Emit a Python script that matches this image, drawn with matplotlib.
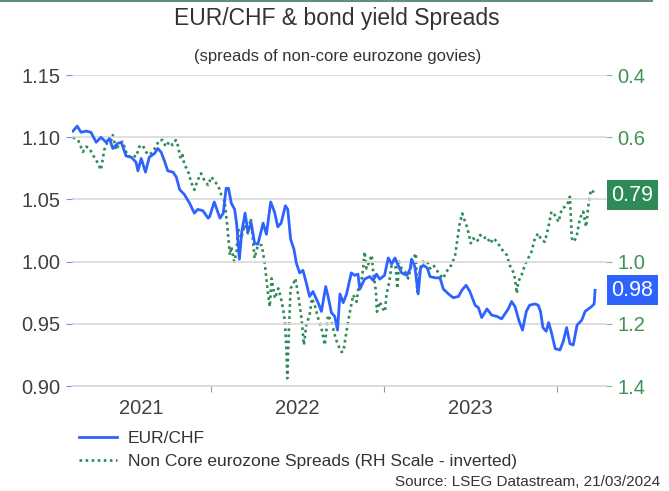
import numpy as np
import pandas as pd
import matplotlib
matplotlib.use("Agg")
import matplotlib.pyplot as plt
import matplotlib.dates as mdates

plt.rcParams['font.family'] = ['Liberation Sans', 'DejaVu Sans']

# EUR/CHF (left axis)
chf_dates = [
    "2021-03-16", "2021-03-25", "2021-04-02", "2021-04-13", "2021-04-23", "2021-05-04",
    "2021-05-14", "2021-05-25", "2021-06-01", "2021-06-08", "2021-06-18", "2021-06-26",
    "2021-07-06", "2021-07-17", "2021-07-27", "2021-07-31", "2021-08-07", "2021-08-16",
    "2021-08-24", "2021-09-04", "2021-09-11", "2021-09-18", "2021-09-25", "2021-10-02",
    "2021-10-13", "2021-10-20", "2021-10-27", "2021-11-06", "2021-11-17", "2021-11-27",
    "2021-12-04", "2021-12-15", "2021-12-26", "2021-12-29", "2022-01-08", "2022-01-20",
    "2022-01-27", "2022-02-02", "2022-02-07", "2022-02-13", "2022-02-20", "2022-02-24",
    "2022-03-02", "2022-03-07", "2022-03-14", "2022-03-20", "2022-03-27", "2022-04-03",
    "2022-04-10", "2022-04-21", "2022-04-28", "2022-05-07", "2022-05-15", "2022-05-22",
    "2022-05-29", "2022-06-07", "2022-06-12", "2022-06-18", "2022-06-25", "2022-06-30",
    "2022-07-07", "2022-07-14", "2022-07-21", "2022-07-28", "2022-08-04", "2022-08-15",
    "2022-08-22", "2022-08-31", "2022-09-05", "2022-09-12", "2022-09-19", "2022-09-25",
    "2022-09-30", "2022-10-07", "2022-10-14", "2022-10-24", "2022-10-31", "2022-11-07",
    "2022-11-11", "2022-11-21", "2022-12-02", "2022-12-09", "2022-12-16", "2022-12-23",
    "2023-01-02", "2023-01-10", "2023-01-17", "2023-01-24", "2023-01-31", "2023-02-07",
    "2023-02-18", "2023-02-25", "2023-02-28", "2023-03-07", "2023-03-14", "2023-03-19",
    "2023-03-25", "2023-04-02", "2023-04-08", "2023-04-19", "2023-04-29", "2023-05-06",
    "2023-05-17", "2023-05-27", "2023-06-07", "2023-06-14", "2023-06-23", "2023-07-01",
    "2023-07-12", "2023-07-19", "2023-07-26", "2023-08-06", "2023-08-16", "2023-08-27",
    "2023-09-06", "2023-09-13", "2023-09-20", "2023-09-27", "2023-10-04", "2023-10-13",
    "2023-10-20", "2023-10-28", "2023-11-04", "2023-11-15", "2023-11-22", "2023-11-27",
    "2023-12-02", "2023-12-09", "2023-12-14", "2023-12-20", "2023-12-28", "2024-01-07",
    "2024-01-14", "2024-01-21", "2024-01-28", "2024-02-04", "2024-02-12", "2024-02-22",
    "2024-02-29", "2024-03-07", "2024-03-14", "2024-03-19", "2024-03-21",
]
chf_values = [
    1.105, 1.109, 1.104, 1.105, 1.104, 1.096,
    1.100, 1.096, 1.099, 1.091, 1.095, 1.096,
    1.085, 1.084, 1.080, 1.073, 1.083, 1.072,
    1.084, 1.087, 1.091, 1.088, 1.081, 1.073,
    1.072, 1.068, 1.058, 1.054, 1.047, 1.039,
    1.042, 1.041, 1.035, 1.036, 1.048, 1.035,
    1.039, 1.059, 1.059, 1.047, 1.042, 1.031,
    1.002, 1.024, 1.039, 1.024, 1.031, 1.015,
    1.014, 1.031, 1.022, 1.048, 1.040, 1.028,
    1.031, 1.045, 1.042, 1.018, 1.010, 0.999,
    0.991, 0.993, 0.983, 0.972, 0.976, 0.967,
    0.960, 0.980, 0.972, 0.959, 0.956, 0.945,
    0.974, 0.967, 0.974, 0.991, 0.989, 0.990,
    0.978, 0.986, 0.988, 0.985, 0.990, 0.986,
    0.989, 1.003, 0.998, 1.003, 0.997, 0.991,
    0.989, 0.994, 1.002, 0.996, 0.974, 0.995,
    0.997, 0.995, 0.988, 0.987, 0.987, 0.978,
    0.974, 0.971, 0.972, 0.977, 0.981, 0.976,
    0.965, 0.963, 0.955, 0.962, 0.957, 0.956,
    0.954, 0.958, 0.962, 0.968, 0.964, 0.952,
    0.945, 0.960, 0.965, 0.966, 0.965, 0.960,
    0.947, 0.944, 0.951, 0.943, 0.930, 0.929,
    0.936, 0.947, 0.934, 0.933, 0.949, 0.953,
    0.960, 0.962, 0.964, 0.966, 0.977,
]

# non-core eurozone spreads (right axis, inverted)
spr_dates = [
    "2021-03-16", "2021-03-27", "2021-04-06", "2021-04-13", "2021-04-20", "2021-04-27",
    "2021-05-04", "2021-05-11", "2021-05-14", "2021-05-21", "2021-05-28", "2021-06-05",
    "2021-06-08", "2021-06-15", "2021-06-22", "2021-06-29", "2021-07-06", "2021-07-13",
    "2021-07-20", "2021-07-27", "2021-08-03", "2021-08-10", "2021-08-17", "2021-08-24",
    "2021-08-31", "2021-09-07", "2021-09-14", "2021-09-21", "2021-09-28", "2021-10-05",
    "2021-10-12", "2021-10-19", "2021-10-23", "2021-10-29", "2021-11-02", "2021-11-06",
    "2021-11-13", "2021-11-20", "2021-11-27", "2021-12-04", "2021-12-11", "2021-12-18",
    "2021-12-26", "2022-01-02", "2022-01-09", "2022-01-16", "2022-01-23", "2022-01-30",
    "2022-02-05", "2022-02-10", "2022-02-13", "2022-02-19", "2022-02-24", "2022-02-27",
    "2022-03-06", "2022-03-13", "2022-03-20", "2022-03-26", "2022-03-31", "2022-04-03",
    "2022-04-10", "2022-04-18", "2022-04-24", "2022-05-01", "2022-05-05", "2022-05-09",
    "2022-05-16", "2022-05-23", "2022-05-28", "2022-06-02", "2022-06-06", "2022-06-09",
    "2022-06-11", "2022-06-14", "2022-06-18", "2022-06-23", "2022-06-28", "2022-07-04",
    "2022-07-11", "2022-07-16", "2022-07-21", "2022-07-28", "2022-08-02", "2022-08-08",
    "2022-08-15", "2022-08-22", "2022-08-29", "2022-09-05", "2022-09-12", "2022-09-21",
    "2022-09-26", "2022-10-03", "2022-10-07", "2022-10-15", "2022-10-21", "2022-10-28",
    "2022-11-04", "2022-11-09", "2022-11-15", "2022-11-18", "2022-11-21", "2022-11-25",
    "2022-12-01", "2022-12-06", "2022-12-09", "2022-12-15", "2022-12-17", "2022-12-23",
    "2022-12-29", "2023-01-03", "2023-01-06", "2023-01-12", "2023-01-17", "2023-01-24",
    "2023-01-29", "2023-02-02", "2023-02-07", "2023-02-14", "2023-02-21", "2023-02-26",
    "2023-03-04", "2023-03-09", "2023-03-12", "2023-03-18", "2023-03-24", "2023-03-29",
    "2023-04-02", "2023-04-08", "2023-04-15", "2023-04-22", "2023-04-29", "2023-05-06",
    "2023-05-12", "2023-05-19", "2023-05-26", "2023-05-31", "2023-06-04", "2023-06-09",
    "2023-06-15", "2023-06-21", "2023-06-26", "2023-07-03", "2023-07-08", "2023-07-16",
    "2023-07-23", "2023-07-30", "2023-08-06", "2023-08-13", "2023-08-20", "2023-08-27",
    "2023-09-03", "2023-09-10", "2023-09-17", "2023-09-23", "2023-09-30", "2023-10-04",
    "2023-10-08", "2023-10-11", "2023-10-18", "2023-10-25", "2023-11-01", "2023-11-08",
    "2023-11-15", "2023-11-22", "2023-11-29", "2023-12-06", "2023-12-13", "2023-12-20",
    "2023-12-27", "2024-01-04", "2024-01-11", "2024-01-18", "2024-01-22", "2024-01-28",
    "2024-02-01", "2024-02-05", "2024-02-11", "2024-02-18", "2024-02-25", "2024-03-02",
    "2024-03-07", "2024-03-12", "2024-03-17", "2024-03-21",
]
spr_values = [
    0.600, 0.609, 0.647, 0.630, 0.636, 0.657,
    0.673, 0.695, 0.705, 0.641, 0.614, 0.609,
    0.593, 0.641, 0.620, 0.614, 0.647, 0.663,
    0.657, 0.663, 0.630, 0.625, 0.647, 0.657,
    0.647, 0.630, 0.609, 0.609, 0.630, 0.614,
    0.625, 0.609, 0.625, 0.668, 0.657, 0.689,
    0.705, 0.743, 0.769, 0.738, 0.716, 0.738,
    0.754, 0.727, 0.743, 0.754, 0.786, 0.807,
    0.893, 0.979, 0.952, 1.000, 0.968, 0.893,
    0.925, 0.882, 0.909, 0.861, 0.936, 0.989,
    0.947, 0.947, 1.000, 1.097, 1.145, 1.054,
    1.118, 1.086, 1.113, 1.150, 1.193, 1.279,
    1.375, 1.236, 1.086, 1.075, 1.054, 1.107,
    1.182, 1.268, 1.204, 1.172, 1.118, 1.140,
    1.182, 1.214, 1.268, 1.172, 1.193, 1.247,
    1.268, 1.290, 1.290, 1.214, 1.161, 1.107,
    1.129, 1.075, 1.054, 1.022, 0.968, 1.022,
    1.000, 0.979, 1.032, 1.097, 1.161, 1.129,
    1.150, 1.161, 1.107, 1.065, 1.011, 0.989,
    1.086, 1.000, 1.022, 1.032, 1.054, 1.022,
    0.989, 0.973, 1.097, 1.022, 1.000, 1.005,
    1.000, 1.022, 1.011, 1.027, 1.043, 1.054,
    1.032, 1.022, 1.000, 0.979, 0.936, 0.882,
    0.845, 0.872, 0.893, 0.941, 0.925, 0.936,
    0.914, 0.925, 0.920, 0.941, 0.925, 0.936,
    0.952, 0.968, 0.979, 1.011, 1.032, 1.054,
    1.102, 1.065, 1.043, 1.011, 0.989, 0.968,
    0.925, 0.909, 0.931, 0.936, 0.893, 0.839,
    0.850, 0.872, 0.829, 0.823, 0.818, 0.791,
    0.925, 0.936, 0.920, 0.861, 0.839, 0.888,
    0.818, 0.769, 0.775, 0.786,
]

left_ticks = [0.90, 0.95, 1.00, 1.05, 1.10, 1.15]
right_ticks = [0.4, 0.6, 0.8, 1.0, 1.2, 1.4]
year_labels = ["2021", "2022", "2023"]

BLUE = "#2f63ff"
GREEN = "#2e8b57"
GREEN_TXT = "#3f9152"
GREY_TXT = "#404040"
GRID = "#d9d9d9"

chf_d = pd.to_datetime(chf_dates)
spr_d = pd.to_datetime(spr_dates)

fig = plt.figure(figsize=(6.69, 4.91), dpi=100)
ax = fig.add_axes([0.1076, 0.2138, 0.7982, 0.6332])
ax2 = ax.twinx()

ax.set_zorder(ax2.get_zorder() + 1)
ax.patch.set_visible(False)

ax2.plot(spr_d, spr_values, color=GREEN, lw=1.9, linestyle=(0, (1, 1.3)),
         label="Non Core eurozone Spreads (RH Scale - inverted)")
ax.plot(chf_d, chf_values, color=BLUE, lw=2.0, label="EUR/CHF")

x_left = pd.Timestamp("2021-03-14")
x_right = pd.Timestamp("2024-04-13")
ax.set_xlim(x_left, x_right)

ax.set_ylim(0.90, 1.15)
ax.set_yticks(left_ticks)
ax.set_yticklabels([f"{v:.2f}" for v in left_ticks])
ax2.set_ylim(1.4, 0.4)
ax2.set_yticks(right_ticks)
# the 0.8 label sits under the last-value box, as in the source chart
ax2.set_yticklabels(["" if v == 0.8 else f"{v:.1f}" for v in right_ticks])

for v in left_ticks:
    ax.axhline(v, color=GRID, lw=1.2, zorder=0)

# year boundary ticks + centred year labels
bounds = [pd.Timestamp(f"{y}-01-01") for y in (2022, 2023, 2024)]
ax.set_xticks(bounds)
ax.set_xticklabels([])
starts = [x_left, bounds[0], bounds[1]]
ends = [bounds[0], bounds[1], bounds[2]]
mids = [s + (e - s) / 2 for s, e in zip(starts, ends)]
ax.set_xticks(mids, minor=True)
ax.set_xticklabels(year_labels, minor=True)
ax.tick_params(axis='x', which='major', length=4, color="#999999", direction='out')
ax.tick_params(axis='x', which='minor', length=0, pad=9, labelsize=14.5, labelcolor=GREY_TXT)

ax.tick_params(axis='y', length=4, color="#6f8fff", labelsize=14.5, labelcolor=GREY_TXT, pad=4)
ax2.tick_params(axis='y', length=4, color="#7fbf8f", labelsize=14.5, labelcolor=GREEN_TXT, pad=4)

for a in (ax, ax2):
    for s in ('top', 'left', 'right', 'bottom'):
        a.spines[s].set_visible(False)
ax.spines['bottom'].set_visible(True)
ax.spines['bottom'].set_color(GRID)
ax.spines['bottom'].set_linewidth(1.2)

# last value boxes
ax.annotate(f"{chf_values[-1]:.2f}", xy=(1.0, chf_values[-1]), xycoords=('axes fraction', 'data'),
            xytext=(4, 0), textcoords='offset points', ha='left', va='center',
            color='white', fontsize=15.5,
            bbox=dict(boxstyle='square,pad=0.2', fc=BLUE, ec='none'))
ax2.annotate(f"{spr_values[-1]:.2f}", xy=(1.0, spr_values[-1]), xycoords=('axes fraction', 'data'),
             xytext=(4, 0), textcoords='offset points', ha='left', va='center',
             color='white', fontsize=15.5,
             bbox=dict(boxstyle='square,pad=0.2', fc=GREEN, ec='none'))

# titles
fig.add_artist(plt.Line2D([0, 0.975], [0.998, 0.998], color="#5f8f85", lw=1.5))
fig.text(0.503, 0.963, "EUR/CHF & bond yield Spreads", ha='center', va='center',
         fontsize=16.5, color="#333333")
fig.text(0.505, 0.884, "(spreads of non-core eurozone govies)", ha='center', va='center',
         fontsize=12, color="#333333")

h1, l1 = ax.get_legend_handles_labels()
h2, l2 = ax2.get_legend_handles_labels()
fig.legend(h1 + h2, l1 + l2, loc='upper left', bbox_to_anchor=(0.108, 0.137),
           frameon=False, fontsize=12.5, handlelength=2.2, handletextpad=0.6,
           labelspacing=0.45, labelcolor="#333333", borderaxespad=0)

fig.text(0.987, 0.018, "Source: LSEG Datastream, 21/03/2024", ha='right', va='center',
         fontsize=11, color="#333333")

fig.savefig("out.png", dpi=100)
